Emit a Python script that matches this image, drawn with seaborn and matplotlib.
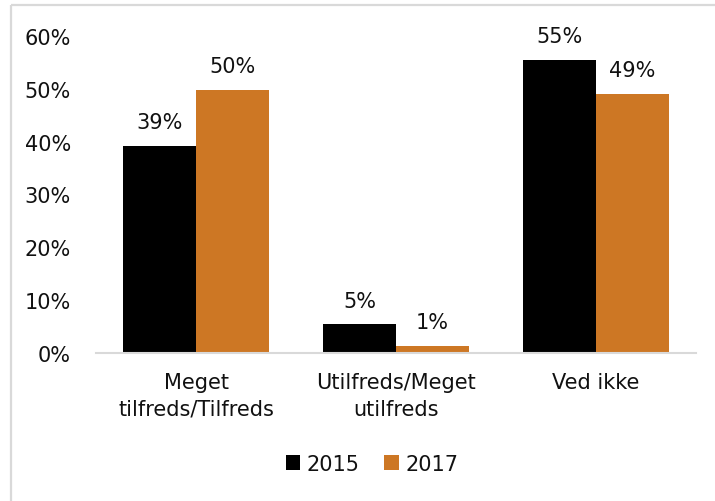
import matplotlib
matplotlib.use("Agg")
import matplotlib.pyplot as plt
import seaborn as sns
import pandas as pd
from matplotlib.lines import Line2D
from matplotlib.patches import Patch

categories = ["Meget\ntilfreds/Tilfreds", "Utilfreds/Meget\nutilfreds", "Ved ikke"]
years = ["2015", "2017"]
values_2015 = [39.2, 5.4, 55.4]
values_2017 = [49.8, 1.3, 49.0]
yticks = [0, 10, 20, 30, 40, 50, 60]
colors = ["#000000", "#CD7724"]

sns.set_theme(style="white")
plt.rcParams["font.family"] = ["DejaVu Sans"]

df = pd.DataFrame({
    "cat": categories * 2,
    "year": [years[0]] * 3 + [years[1]] * 3,
    "val": values_2015 + values_2017,
})

fig = plt.figure(figsize=(7.15, 5.02), dpi=100)
W, H = 715, 502
ax = fig.add_axes([96 / W, 1 - 354 / H, 600 / W, (354 - 37) / H])

sns.barplot(data=df, x="cat", y="val", hue="year", palette=colors, width=0.73,
            gap=0, saturation=1, ax=ax, legend=False, errorbar=None, linewidth=0)

for cont in ax.containers:
    ax.bar_label(cont, labels=[f"{v:.0f}%" for v in cont.datavalues],
                 padding=10, fontsize=15, color="#111111")

ax.set_ylim(0, 60)
ax.set_xlim(-0.5, 2.5)
ax.set_yticks(yticks)
ax.set_yticklabels([f"{t}%" for t in yticks], fontsize=15, color="#111111")
ax.tick_params(axis="y", length=0, pad=18)
ax.tick_params(axis="x", length=0, pad=14)
for lab in ax.get_xticklabels():
    lab.set_fontsize(15)
    lab.set_color("#111111")
    lab.set_linespacing(1.4)
ax.set_xlabel("")
ax.set_ylabel("")
for s in ["left", "right", "top"]:
    ax.spines[s].set_visible(False)
ax.spines["bottom"].set_color("#d9d9d9")
ax.spines["bottom"].set_linewidth(1.5)

handles = [Patch(facecolor=c, edgecolor="none") for c in colors]
fig.legend(handles, years, loc="center", bbox_to_anchor=(372 / W, 1 - 465 / H),
           ncol=2, frameon=False, fontsize=15, handlelength=0.7, handleheight=0.7,
           handletextpad=0.3, columnspacing=1.2, labelcolor="#111111")

fig.add_artist(Line2D([11 / W, 11 / W], [0, 1 - 6 / H], color="#d9d9d9", lw=1.6,
                      transform=fig.transFigure, solid_capstyle="butt"))
fig.add_artist(Line2D([11 / W, 1.01], [1 - 6 / H, 1 - 6 / H], color="#d9d9d9", lw=1.6,
                      transform=fig.transFigure, solid_capstyle="butt"))

fig.savefig("out.png", dpi=100, facecolor="white")
